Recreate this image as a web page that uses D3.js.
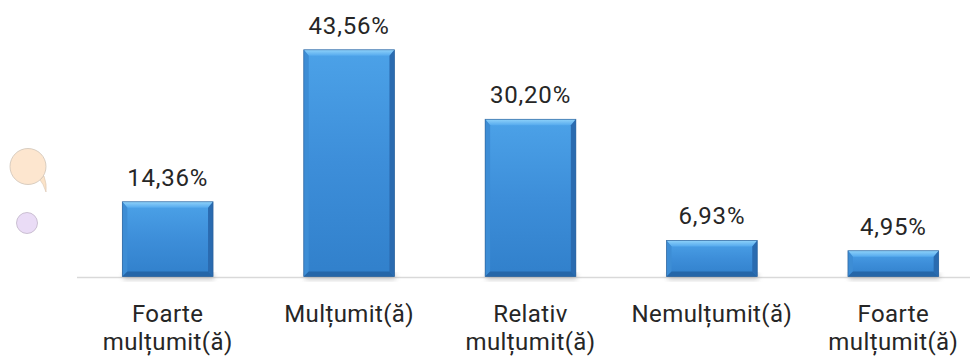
<!DOCTYPE html>
<html><head><meta charset="utf-8">
<script src="https://cdn.jsdelivr.net/npm/d3@7"></script>
<style>
html,body{margin:0;padding:0;background:#fff;}
svg{display:block;}
text{font-family:Roboto,"Noto Sans",sans-serif;fill:#262626;font-weight:400;}
</style></head>
<body>
<script>
const categories = [["Foarte","mulțumit(ă)"],["Mulțumit(ă)"],["Relativ","mulțumit(ă)"],["Nemulțumit(ă)"],["Foarte","mulțumit(ă)"]];
const values = [14.36, 43.56, 30.20, 6.93, 4.95];
const valueLabels = ["14,36%","43,56%","30,20%","6,93%","4,95%"];

const W = 970, H = 357;
const svg = d3.select("body").append("svg").attr("width", W).attr("height", H);
const defs = svg.append("defs");

const g1 = defs.append("linearGradient").attr("id","body").attr("x1",0).attr("y1",0).attr("x2",0).attr("y2",1);
g1.append("stop").attr("offset","0%").attr("stop-color","#4ca2e8");
g1.append("stop").attr("offset","50%").attr("stop-color","#3d8ed9");
g1.append("stop").attr("offset","100%").attr("stop-color","#3180cb");
const g2 = defs.append("linearGradient").attr("id","topb").attr("x1",0).attr("y1",0).attr("x2",0).attr("y2",1);
g2.append("stop").attr("offset","0%").attr("stop-color","#8fd2fa");
g2.append("stop").attr("offset","100%").attr("stop-color","#55aaee");
const f = defs.append("filter").attr("id","sh").attr("x","-20%").attr("y","-20%").attr("width","140%").attr("height","160%");
f.append("feGaussianBlur").attr("stdDeviation",2.5);

const x = d3.scaleBand().domain(d3.range(values.length)).range([77, 984]).paddingInner(0.5).paddingOuter(0.25);
const y = d3.scaleLinear().domain([0, 45]).range([276.5, 276.5 - 45*5.205]);

svg.append("line").attr("x1",77).attr("x2",W).attr("y1",277.5).attr("y2",277.5)
  .attr("stroke","#d9d9d9").attr("stroke-width",1.5);

const bars = svg.append("g").selectAll("g").data(values).join("g");
bars.each(function(v,i){
  const gg = d3.select(this);
  const x0 = x(i), w = x.bandwidth(), y0 = y(v), y1 = y(0), h = y1 - y0;
  const b = 5;
  gg.append("rect").attr("x",x0+1).attr("y",y1-3).attr("width",w).attr("height",6)
    .attr("fill","#9a9a9a").attr("opacity",0.55).attr("filter","url(#sh)");
  gg.append("rect").attr("x",x0).attr("y",y0).attr("width",w).attr("height",h).attr("fill","url(#body)");
  gg.append("path").attr("d",`M${x0},${y0}L${x0+w},${y0}L${x0+w-b},${y0+b+1}L${x0+b},${y0+b+1}Z`).attr("fill","url(#topb)");
  gg.append("path").attr("d",`M${x0},${y0}L${x0+b},${y0+b+1}L${x0+b},${y1-b}L${x0},${y1}Z`).attr("fill","#3d8dd5");
  gg.append("path").attr("d",`M${x0+w},${y0}L${x0+w-b},${y0+b+1}L${x0+w-b},${y1-b}L${x0+w},${y1}Z`).attr("fill","#2a6bb0");
  gg.append("path").attr("d",`M${x0},${y1}L${x0+b},${y1-b}L${x0+w-b},${y1-b}L${x0+w},${y1}Z`).attr("fill","#2566a8");
  gg.append("rect").attr("x",x0).attr("y",y0).attr("width",w).attr("height",h)
    .attr("fill","none").attr("stroke","#2a5e96").attr("stroke-width",0.8).attr("opacity",0.8);
});

svg.append("g").selectAll("text").data(values).join("text")
  .attr("x",(d,i)=>x(i)+x.bandwidth()/2).attr("y",d=>y(d)-16)
  .attr("text-anchor","middle").attr("font-size",24).style("letter-spacing","0.8px")
  .text((d,i)=>valueLabels[i]);

const cl = svg.append("g").selectAll("text").data(categories).join("text")
  .attr("x",(d,i)=>x(i)+x.bandwidth()/2).attr("y",322)
  .attr("text-anchor","middle").attr("font-size",24).style("letter-spacing","0.4px");
cl.each(function(lines,i){
  const t = d3.select(this);
  lines.forEach((ln,j)=>{
    t.append("tspan").attr("x",x(i)+x.bandwidth()/2).attr("y",322+j*28).text(ln);
  });
});

svg.append("path").attr("d","M44,176 Q47,184 46,192 Q43,183 40,180 Z").attr("fill","#fbe3c8").attr("stroke","#d8c4b0").attr("stroke-width",0.6);
svg.append("circle").attr("cx",28).attr("cy",166.5).attr("r",18).attr("fill","#fde6cf").attr("stroke","#cfc4b8").attr("stroke-width",0.8);
svg.append("circle").attr("cx",27).attr("cy",223).attr("r",10.5).attr("fill","#eadcf6").attr("stroke","#c0b4c8").attr("stroke-width",0.8);
</script>
</body></html>
